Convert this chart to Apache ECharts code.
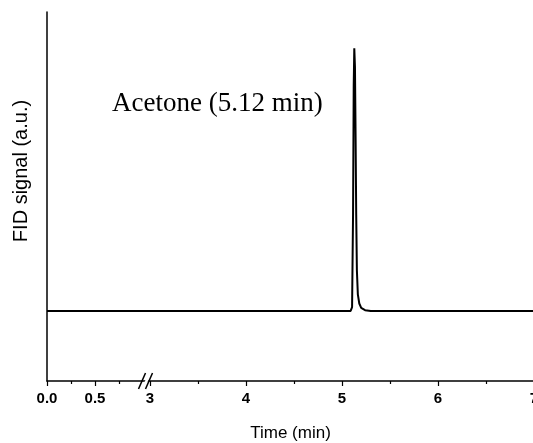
<!DOCTYPE html>
<html>
<head>
<meta charset="utf-8">
<script src="https://cdn.jsdelivr.net/npm/echarts@6/dist/echarts.min.js"></script>
<style>
html,body{margin:0;padding:0;background:#fff;}
#chart{width:533px;height:443px;}
</style>
</head>
<body>
<div id="chart"></div>
<script>
// ---- data (time in min, signal in a.u.) ----
var timeValues   = [0, 5.09, 5.105, 5.115, 5.122, 5.128, 5.135, 5.142, 5.148, 5.155, 5.165, 5.18, 5.20, 5.24, 5.30, 7];
var signalValues = [0.19, 0.19, 0.20, 0.45, 0.80, 0.902, 0.85, 0.65, 0.45, 0.30, 0.235, 0.21, 0.198, 0.192, 0.19, 0.19];
var majorTicks = [0, 0.5, 3, 4, 5, 6, 7];
var minorTicks = [0.25, 0.75, 3.5, 4.5, 5.5, 6.5];
var breakStart = 1.0;     // axis break: from 1.0 ...
var breakEnd = 3.0;       // ... to 3.0
var breakGap = 0.073;     // compressed width of the break (in min)
var annotation = 'Acetone (5.12 min)';

// axis-break transform
var shift = breakEnd - breakStart - breakGap;
function tx(t){ return t >= breakEnd ? t - shift : (t > breakStart ? breakStart + (t - breakStart) / (breakEnd - breakStart) * breakGap : t); }
function inv(v){ return v > breakStart + breakGap - 1e-6 ? v + shift : v; }

var seriesData = timeValues.map(function(t,i){ return [tx(t), signalValues[i]]; });
var xMax = tx(7);

var chart = echarts.init(document.getElementById('chart'), null, {renderer:'canvas'});
chart.setOption({
  animation:false,
  backgroundColor:'#fff',
  grid:{left:47, top:12, width:487, bottom:62, containLabel:false, outerBoundsMode:'none'},
  xAxis:[{
    type:'value', min:0, max:xMax, position:'bottom',
    axisLine:{show:true, onZero:false, lineStyle:{color:'#000', width:1.5}},
    axisTick:{show:true, inside:false, length:5, customValues: majorTicks.map(tx), lineStyle:{color:'#000', width:1.2}},
    axisLabel:{show:true, margin:10, customValues: majorTicks.map(tx), color:'#000', hideOverlap:false,
      fontFamily:'Liberation Sans, Arial', fontSize:15, fontWeight:'bold',
      formatter:function(v){ var t = inv(v); return t < 1 ? t.toFixed(1) : String(Math.round(t)); }},
    splitLine:{show:false},
    name:'Time (min)', nameLocation:'middle', nameGap:44,
    nameTextStyle:{color:'#000', fontFamily:'Liberation Sans, Arial', fontSize:17}
  },{
    type:'value', min:0, max:xMax, position:'bottom',
    axisLine:{show:false},
    axisTick:{show:true, inside:false, length:3, customValues: minorTicks.map(tx), lineStyle:{color:'#000', width:1.2}},
    axisLabel:{show:false}, splitLine:{show:false}
  }],
  yAxis:{
    type:'value', min:0, max:1,
    axisLine:{show:true, onZero:false, lineStyle:{color:'#000', width:1.5}},
    axisTick:{show:false}, axisLabel:{show:false}, splitLine:{show:false}
  },
  series:[{
    type:'line', data:seriesData, showSymbol:false, symbol:'none', smooth:false,
    lineStyle:{color:'#000', width:2}, clip:true, z:3
  },{
    type:'custom', data:[[breakStart + breakGap*0.5, 0]], clip:false, z:5,
    renderItem:function(params, api){
      var p = api.coord([api.value(0), api.value(1)]);
      var cx = p[0], cy = p[1];
      return {type:'group', children:[
        {type:'polygon', shape:{points:[[cx-5,cy+7],[cx+2,cy-7],[cx+5,cy-7],[cx-2,cy+7]]}, style:{fill:'#fff'}},
        {type:'line', shape:{x1:cx-8, y1:cy+8, x2:cx-1, y2:cy-8}, style:{stroke:'#000', lineWidth:1.5}},
        {type:'line', shape:{x1:cx-1, y1:cy+8, x2:cx+6, y2:cy-8}, style:{stroke:'#000', lineWidth:1.5}}
      ]};
    }
  }],
  graphic:[{
    type:'text', x:112, y:104,
    style:{text:annotation, fill:'#000', font:'27px "Liberation Serif", "Times New Roman", serif', textAlign:'left', textVerticalAlign:'middle'}
  },{
    type:'text', x:21, y:171, rotation:Math.PI/2,
    style:{text:'FID signal (a.u.)', fill:'#000', font:'20px "Liberation Sans", Arial, sans-serif', textAlign:'center', textVerticalAlign:'middle'}
  }]
});
</script>
</body>
</html>
